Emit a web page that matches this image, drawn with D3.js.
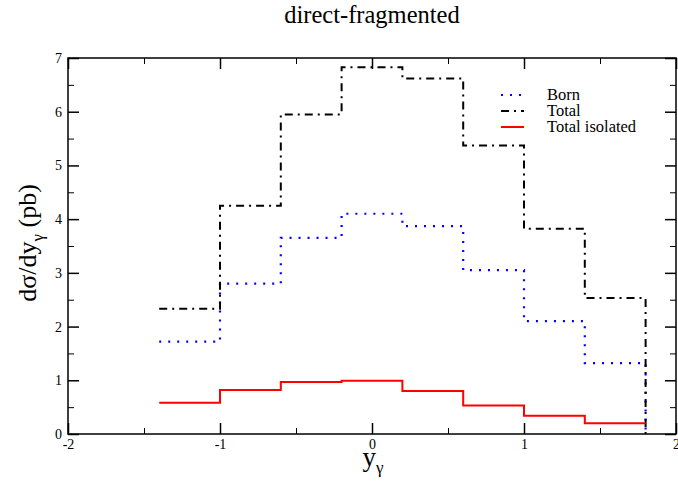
<!DOCTYPE html>
<html><head><meta charset="utf-8">
<script src="https://cdn.jsdelivr.net/npm/d3@7"></script>
<style>body{margin:0;background:#fff}svg{display:block}text{font-family:"Liberation Serif","Times New Roman",serif}</style>
</head><body>
<script>
const binEdges = [-1.4, -1.0, -0.6, -0.2, 0.2, 0.6, 1.0, 1.4, 1.8];
const born = [1.72, 2.80, 3.65, 4.10, 3.87, 3.05, 2.10, 1.32];
const total = [2.33, 4.25, 5.95, 6.83, 6.62, 5.37, 3.82, 2.53];
const totalIsolated = [0.58, 0.82, 0.97, 0.99, 0.80, 0.53, 0.34, 0.20];
const xTicks = [-2, -1, 0, 1, 2];
const yTicks = [0, 1, 2, 3, 4, 5, 6, 7];
const seriesNames = ["Born", "Total", "Total isolated"];

const W = 678, H = 481;
const m = {left: 68, right: 2, top: 58, bottom: 47};
const svg = d3.select("body").append("svg").attr("width", W).attr("height", H);
const x = d3.scaleLinear().domain([-2, 2]).range([m.left, W - m.right]);
const y = d3.scaleLinear().domain([0, 7]).range([H - m.bottom, m.top]);
const fmt = d => String(d);

// title
svg.append("text").attr("x", 372).attr("y", 23).attr("text-anchor", "middle")
  .attr("font-size", 24.5).text("direct-fragmented");

// series
function pts(vals, drop) {
  const p = vals.map((v, i) => [binEdges[i], v]);
  p.push([binEdges[binEdges.length - 1], vals[vals.length - 1]]);
  if (drop) p.push([binEdges[binEdges.length - 1], 0]);
  return p;
}
const line = d3.line().x(d => x(d[0])).y(d => y(d[1])).curve(d3.curveStepAfter);
const styles = [
  {vals: born, drop: true, color: "#0000ff", dash: "2,7", w: 2.2},
  {vals: total, drop: true, color: "#000000", dash: "8,5,2,5", w: 2},
  {vals: totalIsolated, drop: false, color: "#ff0000", dash: null, w: 2}
];
styles.forEach(s => {
  svg.append("path").attr("d", line(pts(s.vals, s.drop))).attr("fill", "none")
    .attr("stroke", s.color).attr("stroke-width", s.w)
    .attr("stroke-dasharray", s.dash);
});

// frame
svg.append("rect").attr("x", x(-2)).attr("y", y(7)).attr("width", x(2) - x(-2))
  .attr("height", y(0) - y(7)).attr("fill", "none").attr("stroke", "#000").attr("stroke-width", 1.5);

// axes with inward ticks
const xMinor = d3.range(-1.5, 2, 1);
const yMinor = d3.range(0.5, 7, 1);
const bottomAxis = d3.axisBottom(x).tickValues(xTicks).tickSize(-11).tickPadding(5).tickFormat(fmt);
const gb = svg.append("g").attr("transform", `translate(0,${y(0)})`).call(bottomAxis);
gb.select(".domain").remove();
gb.selectAll("text").attr("font-size", 14).attr("font-family", "Liberation Serif");
gb.selectAll(".tick line").attr("stroke-width", 1.5);
const gbm = svg.append("g").attr("transform", `translate(0,${y(0)})`)
  .call(d3.axisBottom(x).tickValues(xMinor).tickSize(-6).tickFormat(""));
gbm.select(".domain").remove();

const gt = svg.append("g").attr("transform", `translate(0,${y(7)})`)
  .call(d3.axisTop(x).tickValues(xTicks).tickSize(-11).tickFormat(""));
gt.select(".domain").remove();
gt.selectAll(".tick line").attr("stroke-width", 1.5);
const gtm = svg.append("g").attr("transform", `translate(0,${y(7)})`)
  .call(d3.axisTop(x).tickValues(xMinor).tickSize(-6).tickFormat(""));
gtm.select(".domain").remove();

const gl = svg.append("g").attr("transform", `translate(${x(-2)},0)`)
  .call(d3.axisLeft(y).tickValues(yTicks).tickSize(-11).tickPadding(6).tickFormat(fmt));
gl.select(".domain").remove();
gl.selectAll("text").attr("font-size", 14).attr("font-family", "Liberation Serif");
gl.selectAll(".tick line").attr("stroke-width", 1.5);
const glm = svg.append("g").attr("transform", `translate(${x(-2)},0)`)
  .call(d3.axisLeft(y).tickValues(yMinor).tickSize(-6).tickFormat(""));
glm.select(".domain").remove();

const gr = svg.append("g").attr("transform", `translate(${x(2)},0)`)
  .call(d3.axisRight(y).tickValues(yTicks).tickSize(-11).tickFormat(""));
gr.select(".domain").remove();
gr.selectAll(".tick line").attr("stroke-width", 1.5);
const grm = svg.append("g").attr("transform", `translate(${x(2)},0)`)
  .call(d3.axisRight(y).tickValues(yMinor).tickSize(-6).tickFormat(""));
grm.select(".domain").remove();

// axis labels
const xl = svg.append("text").attr("x", 373).attr("y", 466).attr("text-anchor", "middle").attr("font-size", 27);
xl.append("tspan").text("y");
xl.append("tspan").attr("font-size", 17).attr("dy", 7).text("γ");

const yl = svg.append("text").attr("transform", "translate(36,243) rotate(-90)")
  .attr("text-anchor", "middle").attr("font-size", 26);
yl.append("tspan").text("dσ/dy");
yl.append("tspan").attr("font-size", 17).attr("dy", 7).text("γ");
yl.append("tspan").attr("dy", -7).text(" (pb)");

// legend
const lg = svg.append("g");
styles.forEach((s, i) => {
  const ly = 95 + i * 16;
  lg.append("line").attr("x1", 501).attr("x2", 524).attr("y1", ly).attr("y2", ly)
    .attr("stroke", s.color).attr("stroke-width", s.w).attr("stroke-dasharray", s.dash);
  lg.append("text").attr("x", 547).attr("y", ly + 5).attr("font-size", 16.5).text(seriesNames[i]);
});
</script>
</body></html>
